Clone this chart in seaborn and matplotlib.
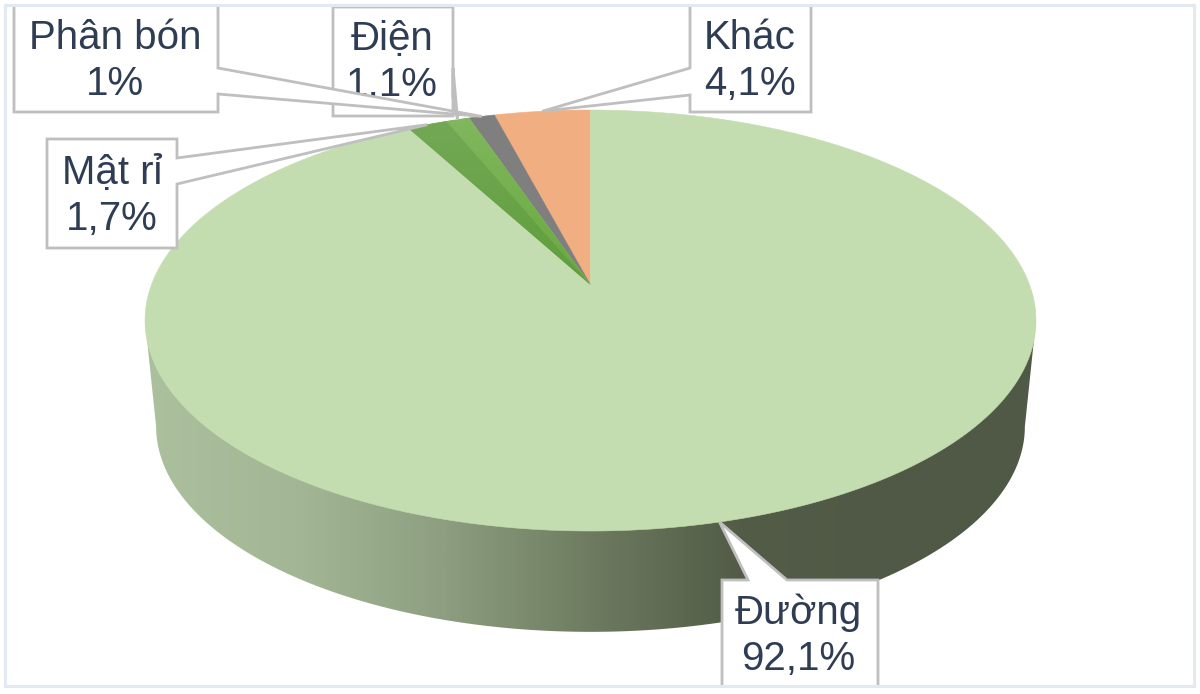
import numpy as np
import seaborn as sns
import matplotlib.pyplot as plt
from matplotlib.patches import Polygon, Rectangle

# Values, going anticlockwise from 12 o'clock
slices = ["Khác", "Điện", "Phân bón", "Mật rỉ", "Đường"]
values = [4.1, 1.1, 1.0, 1.7, 92.1]
value_labels = ["4,1%", "1,1%", "1%", "1,7%", "92,1%"]

sns.set_theme(style="white")
plt.rcParams['font.family'] = ['Liberation Sans', 'DejaVu Sans']

TEXT = "#2f3d54"
EDGE = "#bfbfbf"
side_cmap = sns.blend_palette(["#abc09d", "#a3b796", "#8d9f80", "#6e7b60",
                               "#525c47", "#4f5945", "#4f5945"], as_cmap=True)

# pie geometry in pixels, a circle seen in perspective
CX, APEX = 590.5, 285
A, B, P = 204.5, 439.1, 0.1687


def rim(t, scale=1.0, drop=0.0):
    x, y = -np.sin(t), np.cos(t)
    w = 1 + P * y
    return CX + scale * B * x / w, APEX + drop - scale * A * y / w


f, ax = plt.subplots(figsize=(12, 6.94), dpi=100)
f.subplots_adjust(0, 0, 1, 1)
ax.set_axis_off()

# cylinder side
tl = np.arccos(-P)
ts = np.linspace(tl, 2 * np.pi - tl, 300)
bx, by = rim(ts, 0.975, 107)
sx = np.r_[rim(tl)[0], bx, rim(2 * np.pi - tl)[0]]
sy = np.r_[rim(tl)[1], by, rim(2 * np.pi - tl)[1]]
side = Polygon(np.c_[sx, sy], closed=True, fc="none", ec="none", transform=ax.transData)
ax.add_patch(side)
im = ax.imshow(np.linspace(0, 1, 400).reshape(1, -1), cmap=side_cmap, aspect="auto",
               extent=(145, 1036, 640, 300), zorder=1)
im.set_clip_path(side)

# top face from the values
fills = {"Khác": ("#f1ae81", "#f1ae81"), "Điện": ("#7f7f7f", "#7f7f7f"),
         "Phân bón": ("#82b760", "#68aa3e"), "Mật rỉ": ("#74a957", "#5f9e3b"),
         "Đường": ("#c4ddb0", "#c4ddb0")}
edges = 2 * np.pi * np.r_[0, np.cumsum(values)] / sum(values)
mids = {}
for i, name in enumerate(slices):
    t = np.linspace(edges[i], edges[i + 1], 400)
    rx, ry = rim(t)
    poly = Polygon(np.c_[np.r_[CX, rx], np.r_[APEX, ry]], closed=True, transform=ax.transData,
                   fc=fills[name][0], ec=fills[name][0], lw=0.4, zorder=2)
    ax.add_patch(poly)
    if fills[name][0] != fills[name][1]:
        cm = sns.blend_palette(list(fills[name]), as_cmap=True)
        g = ax.imshow(np.linspace(0, 1, 200).reshape(-1, 1), cmap=cm, aspect="auto",
                      extent=(380, 600, APEX, 110), zorder=2.1)
        g.set_clip_path(poly)
    mids[name] = rim((edges[i] + edges[i + 1]) / 2)

ax.set_xlim(0, 1200)
ax.set_ylim(694, 0)

# outer frame, labels get cut off by it
frame = Rectangle((5, 5), 1189, 681, fc="none", ec="#e3e9f0", lw=2.2, zorder=20)
ax.add_patch(frame)

# callouts: box, where the pointer leaves it, which slice it points at, text centre
callouts = [
    ("Điện", (333, 453, 7, 116), [(453, 68), (453, 97)], "Phân bón", (392, 62)),
    ("Phân bón", (14, 218, 0, 112), [(218, 94), (218, 68)], "Điện", (115, 61)),
    ("Mật rỉ", (47, 177, 139, 248), [(177, 184), (177, 158)], "Mật rỉ", (112, 196)),
    ("Khác", (690, 811, 0, 112), [(690, 68), (690, 95)], "Khác", (750, 61)),
    ("Đường", (722, 878, 580, 700), [(787, 580), (748, 580)], "Đường", (798, 636)),
]
for z, (name, (x0, x1, y0, y1), notch, target, (tx, ty)) in enumerate(callouts):
    tip = mids[target]
    if name == "Đường":
        pts = [(x0, y0), notch[1], tip, notch[0], (x1, y0), (x1, y1), (x0, y1)]
    elif name == "Khác":
        pts = [(x0, y0), (x1, y0), (x1, y1), (x0, y1), notch[1], tip, notch[0]]
    else:
        pts = [(x0, y0), (x1, y0), notch[1], tip, notch[0], (x1, y1), (x0, y1)]
    p = Polygon(pts, closed=True, fc="white", ec=EDGE, lw=2, joinstyle="miter", zorder=5 + z)
    ax.add_patch(p)
    p.set_clip_path(Rectangle((5, 5), 1189, 681, transform=ax.transData))
    ax.text(tx, ty, name + "\n" + value_labels[slices.index(name)], ha="center", va="center",
            fontsize=29, color=TEXT, linespacing=1.26, zorder=5 + z)

plt.savefig("out.png", dpi=100)
